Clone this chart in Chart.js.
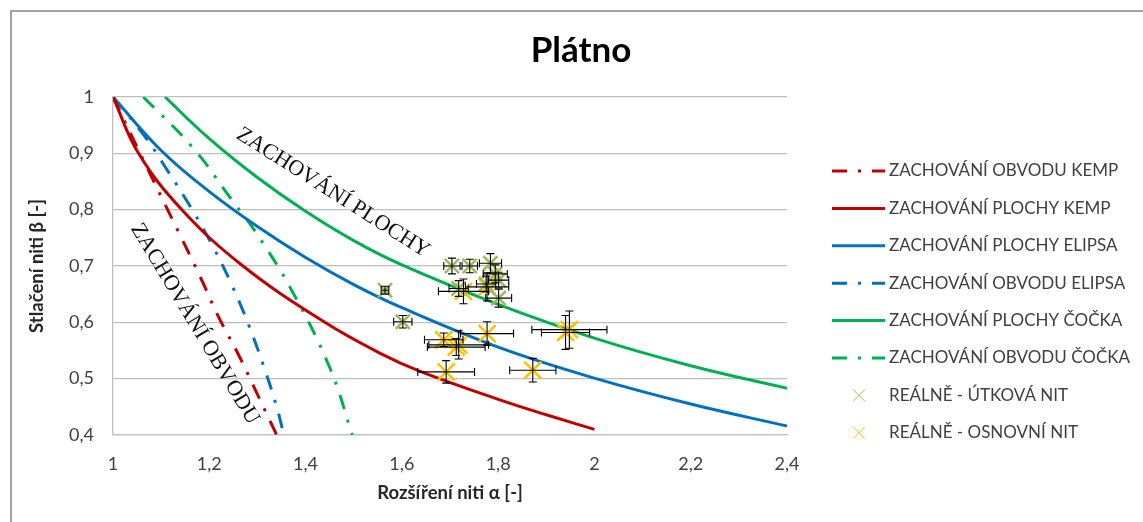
<!DOCTYPE html>
<html>
<head>
<meta charset="utf-8">
<title>Plátno</title>
<script src="https://cdn.jsdelivr.net/npm/chart.js@4.4.1/dist/chart.umd.min.js"></script>
<style>
    body { margin: 0; background: #fff; }
    #wrap { width: 1143px; height: 522px; position: relative; }
</style>
</head>
<body>
<div id="wrap"><canvas id="chart"></canvas></div>
<script>
// Model curves (alpha = rozšíření, beta = stlačení)
const obvKempA = [1, 1.063, 1.122, 1.181, 1.219, 1.261, 1.299, 1.340];
const obvKempB = [1, 0.888, 0.785, 0.681, 0.610, 0.542, 0.474, 0.400];

const plKempA = [1, 1.053, 1.143, 1.270, 1.440, 1.555, 1.638, 1.805, 1.900, 2.000];
const plKempB = [1, 0.900, 0.800, 0.700, 0.600, 0.545, 0.513, 0.462, 0.436, 0.410];

const plElA = [1, 1.1, 1.2, 1.3, 1.4, 1.5, 1.6, 1.8, 2.0, 2.2, 2.4];
const plElB = [1, 0.905, 0.832, 0.770, 0.715, 0.667, 0.626, 0.556, 0.501, 0.455, 0.416];

const obvElA = [1, 1.067, 1.115, 1.163, 1.208, 1.247, 1.282, 1.313, 1.340, 1.355];
const obvElB = [1, 0.929, 0.867, 0.802, 0.734, 0.666, 0.595, 0.522, 0.450, 0.400];

const plCoA = [1.108, 1.2, 1.3, 1.4, 1.5, 1.6, 1.8, 2.0, 2.2, 2.4];
const plCoB = [1, 0.926, 0.857, 0.797, 0.745, 0.702, 0.632, 0.572, 0.523, 0.483];

const obvCoA = [1.063, 1.167, 1.247, 1.295, 1.371, 1.451, 1.497];
const obvCoB = [1, 0.909, 0.817, 0.762, 0.657, 0.518, 0.400];

// Measured values with error bars
const utkA = [1.565, 1.602, 1.704, 1.741, 1.784, 1.794, 1.801, 1.801, 1.718, 1.775];
const utkB = [0.657, 0.601, 0.700, 0.700, 0.705, 0.686, 0.675, 0.643, 0.660, 0.668];
const utkErrA = [0.008, 0.019, 0.017, 0.016, 0.023, 0.025, 0.021, 0.027, 0.020, 0.020];
const utkErrB = [0.007, 0.011, 0.014, 0.012, 0.017, 0.016, 0.014, 0.016, 0.014, 0.014];

const osnA = [1.728, 1.777, 1.940, 1.948, 1.687, 1.718, 1.713, 1.777, 1.692, 1.872];
const osnB = [0.655, 0.663, 0.582, 0.587, 0.569, 0.560, 0.556, 0.580, 0.512, 0.515];
const osnErrA = [0.052, 0.045, 0.050, 0.078, 0.040, 0.062, 0.060, 0.055, 0.059, 0.048];
const osnErrB = [0.022, 0.025, 0.030, 0.033, 0.012, 0.025, 0.015, 0.021, 0.020, 0.021];

const DASH_DOT = [15, 11, 3, 11];
const RED = '#C00000';
const BLUE = '#0070C0';
const GREEN = '#00B050';
const OLIVE = '#9BBB59';
const GOLD = '#FFC000';

const toPoints = (xs, ys) => xs.map((x, i) => ({ x: x, y: ys[i] }));
const fmt = v => String(Math.round(v * 10) / 10).replace('.', ',');

function lineSet(label, xs, ys, color, dashed) {
    return {
        label: label,
        data: toPoints(xs, ys),
        showLine: true,
        borderColor: color,
        backgroundColor: color,
        borderWidth: 3,
        borderDash: dashed ? DASH_DOT : [],
        pointRadius: 0,
        pointHoverRadius: 0,
        tension: 0.4,
        xAxisID: 'x',
        yAxisID: 'y',
        order: 1
    };
}

function markSet(label, xs, ys, errX, errY, color, radius) {
    return {
        label: label,
        data: toPoints(xs, ys),
        errX: errX,
        errY: errY,
        showLine: false,
        pointStyle: 'crossRot',
        pointRadius: radius,
        pointBorderWidth: 2.5,
        borderColor: color,
        backgroundColor: color,
        xAxisID: 'x',
        yAxisID: 'y',
        order: 0
    };
}

// White background + the grey frame round the chart
const framePlugin = {
    id: 'frame',
    beforeDraw(chart) {
        const ctx = chart.ctx;
        ctx.save();
        ctx.fillStyle = '#fff';
        ctx.fillRect(0, 0, chart.width, chart.height);
        ctx.strokeStyle = '#8c8c8c';
        ctx.lineWidth = 1.6;
        ctx.strokeRect(11, 11, chart.width, chart.height);
        ctx.restore();
    }
};

// Error bars for the measured points
const errorBarPlugin = {
    id: 'errorBars',
    afterDatasetsDraw(chart) {
        const ctx = chart.ctx;
        const xs = chart.scales.x;
        const ys = chart.scales.y;
        const cap = 4;
        ctx.save();
        ctx.strokeStyle = '#000';
        ctx.lineWidth = 1.1;
        chart.data.datasets.forEach(ds => {
            if (!ds.errX) return;
            ds.data.forEach((p, i) => {
                const cx = xs.getPixelForValue(p.x);
                const cy = ys.getPixelForValue(p.y);
                const x1 = xs.getPixelForValue(p.x - ds.errX[i]);
                const x2 = xs.getPixelForValue(p.x + ds.errX[i]);
                const y1 = ys.getPixelForValue(p.y + ds.errY[i]);
                const y2 = ys.getPixelForValue(p.y - ds.errY[i]);
                ctx.beginPath();
                ctx.moveTo(x1, cy); ctx.lineTo(x2, cy);
                ctx.moveTo(x1, cy - cap); ctx.lineTo(x1, cy + cap);
                ctx.moveTo(x2, cy - cap); ctx.lineTo(x2, cy + cap);
                ctx.moveTo(cx, y1); ctx.lineTo(cx, y2);
                ctx.moveTo(cx - cap, y1); ctx.lineTo(cx + cap, y1);
                ctx.moveTo(cx - cap, y2); ctx.lineTo(cx + cap, y2);
                ctx.stroke();
            });
        });
        ctx.restore();
    }
};

// Rotated captions inside the plot
const notes = [
    { text: 'ZACHOVÁNÍ PLOCHY', a: 1.457, b: 0.830, angle: 32.5 },
    { text: 'ZACHOVÁNÍ OBVODU', a: 1.170, b: 0.597, angle: 59 }
];

const notesPlugin = {
    id: 'notes',
    afterDatasetsDraw(chart) {
        const ctx = chart.ctx;
        ctx.save();
        ctx.font = '22px "Liberation Serif", "Times New Roman", serif';
        ctx.fillStyle = '#111';
        ctx.textAlign = 'center';
        ctx.textBaseline = 'middle';
        notes.forEach(n => {
            ctx.save();
            ctx.translate(chart.scales.x.getPixelForValue(n.a), chart.scales.y.getPixelForValue(n.b));
            ctx.rotate(n.angle * Math.PI / 180);
            ctx.fillText(n.text, 0, 0);
            ctx.restore();
        });
        ctx.restore();
    }
};

// Legend on the right, laid out like the original
const legendPlugin = {
    id: 'sideLegend',
    afterDraw(chart) {
        const ctx = chart.ctx;
        const area = chart.chartArea;
        const x0 = area.right + 45;
        const sample = 53;
        let y = area.top + 74;
        ctx.save();
        ctx.font = '17px Lato';
        ctx.textBaseline = 'middle';
        ctx.textAlign = 'left';
        chart.data.datasets.forEach(ds => {
            ctx.save();
            ctx.strokeStyle = ds.borderColor;
            if (ds.showLine) {
                ctx.lineWidth = ds.borderWidth;
                ctx.setLineDash(ds.borderDash);
                ctx.beginPath();
                ctx.moveTo(x0, y);
                ctx.lineTo(x0 + sample, y);
                ctx.stroke();
            } else {
                const cx = x0 + 27;
                const d = 6;
                ctx.lineWidth = 1;
                ctx.beginPath();
                ctx.moveTo(cx - d, y - d); ctx.lineTo(cx + d, y + d);
                ctx.moveTo(cx - d, y + d); ctx.lineTo(cx + d, y - d);
                ctx.stroke();
            }
            ctx.restore();
            ctx.fillStyle = '#404040';
            ctx.fillText(ds.label, x0 + 57, y);
            y += 37.4;
        });
        ctx.restore();
    }
};

const ctx = document.getElementById('chart').getContext('2d');
const chart = new Chart(ctx, {
    type: 'scatter',
    data: {
        datasets: [
            lineSet('ZACHOVÁNÍ OBVODU KEMP', obvKempA, obvKempB, RED, true),
            lineSet('ZACHOVÁNÍ PLOCHY KEMP', plKempA, plKempB, RED, false),
            lineSet('ZACHOVÁNÍ PLOCHY ELIPSA', plElA, plElB, BLUE, false),
            lineSet('ZACHOVÁNÍ OBVODU ELIPSA', obvElA, obvElB, BLUE, true),
            lineSet('ZACHOVÁNÍ PLOCHY ČOČKA', plCoA, plCoB, GREEN, false),
            lineSet('ZACHOVÁNÍ OBVODU ČOČKA', obvCoA, obvCoB, GREEN, true),
            markSet('REÁLNĚ - ÚTKOVÁ NIT', utkA, utkB, utkErrA, utkErrB, OLIVE, 10),
            markSet('REÁLNĚ - OSNOVNÍ NIT', osnA, osnB, osnErrA, osnErrB, GOLD, 12)
        ]
    },
    options: {
        responsive: true,
        maintainAspectRatio: false,
        animation: false,
        layout: {
            padding: { left: 19, top: 12, right: 0, bottom: 0 }
        },
        scales: {
            x: {
                type: 'linear',
                min: 1,
                max: 2.4,
                afterFit: s => { s.height = 87; },
                ticks: {
                    stepSize: 0.2,
                    padding: 18,
                    color: '#404040',
                    font: { family: 'Lato', size: 18 },
                    callback: v => fmt(v)
                },
                grid: { display: false, drawTicks: false },
                border: { display: true, color: '#BFBFBF', width: 1.3 },
                title: {
                    display: true,
                    text: 'Rozšíření niti α [-]',
                    color: '#262626',
                    font: { family: 'Lato', size: 18.5, weight: 'bold' },
                    padding: { top: 0, bottom: 18 }
                }
            },
            y: {
                type: 'linear',
                position: 'left',
                min: 0.4,
                max: 1,
                afterFit: s => { s.width = 94; },
                ticks: {
                    stepSize: 0.1,
                    padding: 19,
                    color: '#404040',
                    font: { family: 'Lato', size: 18 },
                    callback: v => fmt(v)
                },
                grid: { color: '#BFBFBF', lineWidth: 1.3, drawTicks: false },
                border: { display: true, color: '#BFBFBF', width: 1.3 },
                title: {
                    display: true,
                    text: 'Stlačení niti β [-]',
                    color: '#262626',
                    font: { family: 'Lato', size: 18.5, weight: 'bold' },
                    padding: { top: 7, bottom: 0 }
                }
            },
            // empty space on the right that holds the legend
            legendSpace: {
                type: 'linear',
                axis: 'y',
                position: 'right',
                afterFit: s => { s.width = 356; },
                ticks: { display: false },
                grid: { display: false },
                border: { display: false }
            }
        },
        plugins: {
            legend: { display: false },
            tooltip: { enabled: false },
            title: {
                display: true,
                text: 'Plátno',
                color: '#000',
                font: { family: 'Lato', size: 35, weight: 'bold' },
                padding: { top: 18, bottom: 25 }
            }
        }
    },
    plugins: [framePlugin, errorBarPlugin, notesPlugin, legendPlugin]
});
</script>
</body>
</html>
